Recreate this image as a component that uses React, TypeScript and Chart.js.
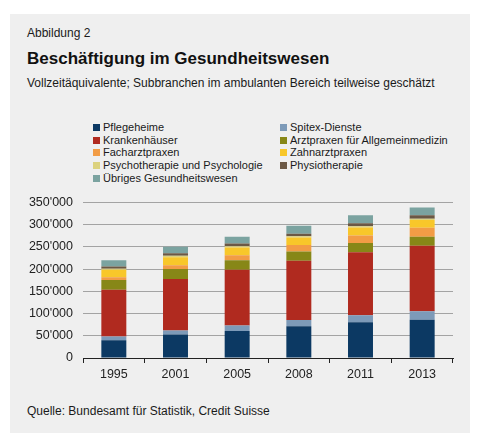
import React, { useEffect, useRef } from "react";
import { Chart, registerables } from "chart.js";

Chart.register(...registerables);

const years = ["1995", "2001", "2005", "2008", "2011", "2013"];
const pflegeheime = [40000, 53000, 60500, 71500, 80500, 86000];
const spitex = [8500, 9000, 12500, 14000, 15500, 19000];
const krankenhaeuser = [105000, 116000, 125500, 133500, 142000, 147500];
const arztpraxen = [22000, 22500, 21500, 20500, 21000, 20500];
const facharztpraxen = [6500, 8500, 11000, 15000, 17000, 20000];
const zahnarztpraxen = [16500, 18000, 17500, 17000, 17500, 17500];
const psychotherapie = [2500, 3000, 3000, 2500, 3000, 3000];
const physiotherapie = [5000, 6000, 6000, 5500, 7000, 8000];
const uebriges = [14000, 14500, 15500, 18000, 18000, 17500];
const yTicks = [0, 50000, 100000, 150000, 200000, 250000, 300000, 350000];

const seriesNames = [
  "Pflegeheime",
  "Spitex-Dienste",
  "Krankenhäuser",
  "Arztpraxen für Allgemeinmedizin",
  "Facharztpraxen",
  "Zahnarztpraxen",
  "Psychotherapie und Psychologie",
  "Physiotherapie",
  "Übriges Gesundheitswesen",
];
const seriesData = [
  pflegeheime,
  spitex,
  krankenhaeuser,
  arztpraxen,
  facharztpraxen,
  zahnarztpraxen,
  psychotherapie,
  physiotherapie,
  uebriges,
];
const seriesColors = [
  "#0c3963",
  "#7d9ab8",
  "#b02a1f",
  "#878717",
  "#f29c45",
  "#f8c72a",
  "#dcd27e",
  "#6b5845",
  "#7ba3a0",
];

const FONT = "'Liberation Sans', Arial, Helvetica, sans-serif";

function fmt(v: number): string {
  if (v === 0) return "0";
  const s = String(Math.round(v));
  return s.replace(/\B(?=(\d{3})+(?!\d))/g, "'");
}

export default function App() {
  const canvasRef = useRef<HTMLCanvasElement | null>(null);

  useEffect(() => {
    const ctx = canvasRef.current;
    if (!ctx) return;
    const chart = new Chart(ctx, {
      type: "bar",
      data: {
        labels: years,
        datasets: seriesNames.map((name, i) => ({
          label: name,
          data: seriesData[i],
          backgroundColor: seriesColors[i],
          borderWidth: 0,
          categoryPercentage: 1,
          barPercentage: 0.405,
        })),
      },
      options: {
        animation: false,
        responsive: false,
        devicePixelRatio: 1,
        layout: { padding: { left: 0, right: 17, top: 9, bottom: 2 } },
        plugins: {
          legend: { display: false },
          title: { display: false },
          tooltip: { enabled: false },
        },
        scales: {
          x: {
            stacked: true,
            afterFit: (s: any) => {
              s.height = 30;
            },
            grid: {
              display: true,
              drawOnChartArea: false,
              drawTicks: true,
              offset: true,
              tickLength: 5,
              color: "#222",
              lineWidth: 1,
            },
            border: { display: true, color: "#222", width: 1 },
            ticks: {
              color: "#222",
              font: { family: FONT, size: 12.5 },
              padding: 4,
            },
          },
          y: {
            stacked: true,
            min: 0,
            max: 350000,
            afterFit: (s: any) => {
              s.width = 73;
            },
            afterBuildTicks: (s: any) => {
              s.ticks = yTicks.map((v) => ({ value: v }));
            },
            grid: {
              display: true,
              drawTicks: false,
              color: (c: any) => (c.tick && c.tick.value === 0 ? "rgba(0,0,0,0)" : "#a3a3a3"),
              lineWidth: 1,
            },
            border: { display: false },
            ticks: {
              color: "#222",
              font: { family: FONT, size: 12.5 },
              padding: 10,
              callback: (v: any) => fmt(Number(v)),
            },
          },
        },
      },
    });
    return () => chart.destroy();
  }, []);

  const legendRows = [131, 143.7, 156.4, 169.1, 181.8];
  const legendItems = seriesNames.map((name, i) => {
    const col = i % 2;
    const row = Math.floor(i / 2);
    return (
      <div
        key={name}
        style={{
          position: "absolute",
          left: col === 0 ? 83 : 270,
          top: legendRows[row] - 10 - 14,
          height: 13,
          display: "flex",
          alignItems: "center",
          fontSize: 11,
          lineHeight: "13px",
          color: "#1a1a1a",
          whiteSpace: "nowrap",
        }}
      >
        <span
          style={{
            display: "inline-block",
            width: 7,
            height: 7,
            background: seriesColors[i],
            marginRight: 3,
          }}
        />
        <span>{name}</span>
      </div>
    );
  });

  return (
    <div
      style={{
        position: "relative",
        width: 476,
        height: 430,
        fontFamily: FONT,
      }}
    >
      <div
        style={{
          position: "absolute",
          left: 2,
          top: 6,
          width: 460,
          height: 419,
          background: "#efefef",
        }}
      >
        <div
          style={{
            position: "absolute",
            left: 17,
            top: 12,
            fontSize: 12,
            lineHeight: "14px",
            color: "#1a1a1a",
            whiteSpace: "nowrap",
          }}
        >
          Abbildung 2
        </div>
        <div
          style={{
            position: "absolute",
            left: 17,
            top: 35,
            fontSize: 17,
            fontWeight: "bold",
            lineHeight: "20px",
            color: "#111",
            whiteSpace: "nowrap",
          }}
        >
          Beschäftigung im Gesundheitswesen
        </div>
        <div
          style={{
            position: "absolute",
            left: 17,
            top: 62,
            fontSize: 12,
            lineHeight: "14px",
            color: "#1a1a1a",
            whiteSpace: "nowrap",
          }}
        >
          Vollzeitäquivalente; Subbranchen im ambulanten Bereich teilweise geschätzt
        </div>
        {legendItems}
        <canvas
          ref={canvasRef}
          width={460}
          height={205}
          style={{ position: "absolute", left: 0, top: 171, width: 460, height: 205 }}
        />
        <div
          style={{
            position: "absolute",
            left: 17,
            top: 390,
            fontSize: 12,
            lineHeight: "14px",
            color: "#1a1a1a",
            whiteSpace: "nowrap",
          }}
        >
          Quelle: Bundesamt für Statistik, Credit Suisse
        </div>
      </div>
    </div>
  );
}
